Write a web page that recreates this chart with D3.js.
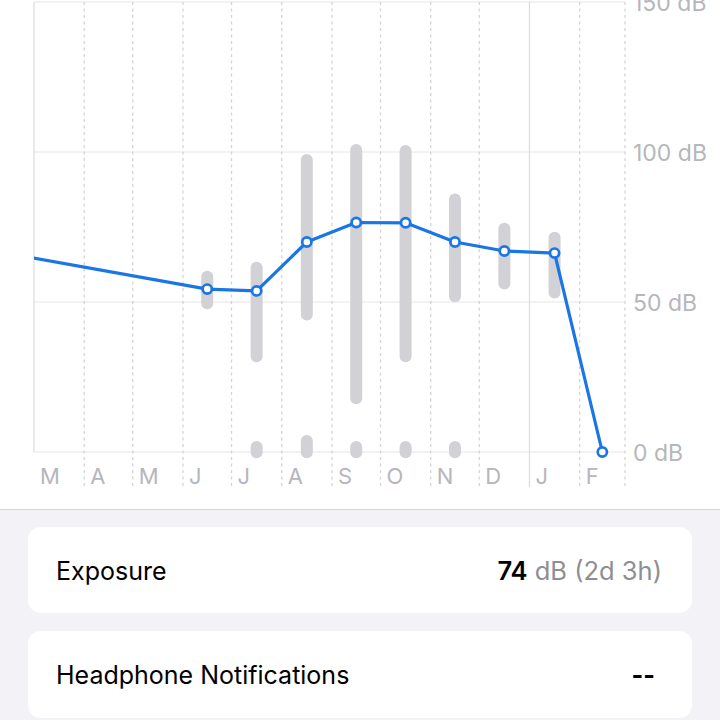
<!DOCTYPE html>
<html>
<head>
<meta charset="utf-8">
<script src="https://cdn.jsdelivr.net/npm/d3@7/dist/d3.min.js"></script>
<style>
  html, body { margin: 0; padding: 0; background: #f2f2f7; }
  svg { display: block; }
  text { font-family: Inter, Roboto, "Noto Sans", sans-serif; }
</style>
</head>
<body>
<svg id="chart" width="720" height="720"></svg>
<script>
// ---- Data ----
const monthLetters = ["M","A","M","J","J","A","S","O","N","D","J","F"];
const yTicks = [0, 50, 100, 150];

// monthly average exposure (line)
const avgMonths = ["2022-02","2022-06","2022-07","2022-08","2022-09","2022-10","2022-11","2022-12","2023-01","2023-02"];
const avgValues = [66, 54.3, 53.7, 70, 76.5, 76.4, 70, 67, 66.3, 0];

// monthly range (gray bars)
const rangeMonths = ["2022-06","2022-07","2022-08","2022-09","2022-10","2022-11","2022-12","2023-01"];
const rangeMax = [60.4, 63.4, 99.3, 102.7, 102.3, 86.2, 76.4, 73.4];
const rangeMin = [47.6, 29.9, 43.8, 15.9, 29.9, 49.9, 54.2, 51.2];

// low-level range near 0 dB (small pills)
const quietMonths = ["2022-07","2022-08","2022-09","2022-10","2022-11"];
const quietMax = [3.7, 5.7, 3.7, 3.7, 3.7];
const quietMin = [-2.1, -2.1, -2.1, -2.1, -2.1];

const summaryLabel = "Exposure";
const summaryValue = "74";
const summaryUnit = " dB (2d 3h)";
const notifLabel = "Headphone Notifications";
const notifValue = "--";

// ---- Layout ----
const svg = d3.select("#chart");
const W = 720;
const plot = { left: 34, right: 625, top: 2, bottom: 452 };
const start = new Date(2022, 2, 1), end = new Date(2023, 2, 1);

const x = d3.scaleTime().domain([start, end]).range([plot.left, plot.right]);
const y = d3.scaleLinear().domain([0, 150]).range([plot.bottom, plot.top]);

const parseMonth = d3.timeParse("%Y-%m");
const midMonth = s => {
  const a = parseMonth(s), b = d3.timeMonth.offset(a, 1);
  return new Date((a.getTime() + b.getTime()) / 2);
};

const monthStarts = d3.timeMonth.range(start, d3.timeDay.offset(end, 1));

// backgrounds
svg.append("rect").attr("x", 0).attr("y", 0).attr("width", W).attr("height", 509).attr("fill", "#ffffff");
svg.append("rect").attr("x", 0).attr("y", 509).attr("width", W).attr("height", 211).attr("fill", "#f2f2f7");
svg.append("line").attr("x1", 0).attr("x2", W).attr("y1", 509.5).attr("y2", 509.5)
  .attr("stroke", "#d6d6db").attr("stroke-width", 1.2);

// horizontal gridlines
svg.append("g").selectAll("line").data(yTicks).join("line")
  .attr("x1", plot.left).attr("x2", plot.right)
  .attr("y1", d => y(d)).attr("y2", d => y(d))
  .attr("stroke", "#e6e6ea").attr("stroke-width", 1.2);

// vertical month lines
const isSolid = d => d.getMonth() === 0 || +d === +start;
svg.append("g").selectAll("line").data(monthStarts).join("line")
  .attr("x1", d => x(d)).attr("x2", d => x(d))
  .attr("y1", plot.top)
  .attr("y2", (d, i) => i === 0 ? plot.bottom : 487)
  .attr("stroke", d => isSolid(d) ? "#dcdce0" : "#d4d4d8")
  .attr("stroke-width", d => isSolid(d) ? 1.2 : 1.3)
  .attr("stroke-dasharray", d => isSolid(d) ? null : "3,3.5");

// x axis labels
const xAxis = d3.axisBottom(x).tickValues(monthStarts.slice(0, 12))
  .tickFormat((d, i) => monthLetters[i]).tickSize(0).tickPadding(0);
const gx = svg.append("g").attr("transform", `translate(0,${plot.bottom})`).call(xAxis);
gx.select(".domain").remove();
gx.selectAll("text")
  .attr("text-anchor", "start").attr("dx", 5.5).attr("dy", null).attr("y", 32)
  .attr("fill", "#b6b6bb").attr("font-size", 22).attr("font-family", "Inter, Roboto, sans-serif");

// y axis labels
const yAxis = d3.axisRight(y).tickValues(yTicks).tickFormat(d => d + " dB").tickSize(0).tickPadding(0);
const gy = svg.append("g").attr("transform", `translate(${plot.right},0)`).call(yAxis);
gy.select(".domain").remove();
gy.selectAll("text")
  .attr("x", 8).attr("dy", "0.36em")
  .attr("fill", "#b6b6bb").attr("font-size", 23).attr("font-family", "Inter, Roboto, sans-serif");

// range bars
const barW = 12;
const bars = rangeMonths.map((m, i) => ({ m, hi: rangeMax[i], lo: rangeMin[i] }));
svg.append("g").selectAll("rect").data(bars).join("rect")
  .attr("x", d => x(midMonth(d.m)) - barW / 2)
  .attr("width", barW)
  .attr("y", d => y(d.hi))
  .attr("height", d => y(d.lo) - y(d.hi))
  .attr("rx", barW / 2)
  .attr("fill", "#d1d1d6");

const quiet = quietMonths.map((m, i) => ({ m, hi: quietMax[i], lo: quietMin[i] }));
svg.append("g").selectAll("rect").data(quiet).join("rect")
  .attr("x", d => x(midMonth(d.m)) - barW / 2)
  .attr("width", barW)
  .attr("y", d => y(d.hi))
  .attr("height", d => y(d.lo) - y(d.hi))
  .attr("rx", barW / 2)
  .attr("fill", "#d1d1d6");

// line
svg.append("clipPath").attr("id", "plotClip").append("rect")
  .attr("x", plot.left).attr("y", -10).attr("width", plot.right - plot.left + 10).attr("height", 480);

const pts = avgMonths.map((m, i) => ({ d: midMonth(m), v: avgValues[i] }));
const line = d3.line().x(p => x(p.d)).y(p => y(p.v));
svg.append("path").datum(pts)
  .attr("clip-path", "url(#plotClip)")
  .attr("d", line)
  .attr("fill", "none").attr("stroke", "#1a76e4").attr("stroke-width", 3.2)
  .attr("stroke-linejoin", "round");

svg.append("g").selectAll("circle").data(pts.filter(p => p.d >= start && p.d <= end)).join("circle")
  .attr("cx", p => x(p.d)).attr("cy", p => y(p.v)).attr("r", 4.6)
  .attr("fill", "#ffffff").attr("stroke", "#1a76e4").attr("stroke-width", 2.7);

// cards
const cards = [
  { y: 527, h: 86, label: summaryLabel },
  { y: 631, h: 87, label: notifLabel }
];
svg.append("g").selectAll("rect").data(cards).join("rect")
  .attr("x", 28).attr("y", d => d.y).attr("width", 664).attr("height", d => d.h)
  .attr("rx", 13).attr("fill", "#ffffff");

svg.append("g").selectAll("text").data(cards).join("text")
  .attr("x", 56).attr("y", d => d.y + 53)
  .attr("font-size", 25).attr("fill", "#000000")
  .text(d => d.label);

const val = svg.append("text").attr("x", 662).attr("y", 580).attr("text-anchor", "end").attr("font-size", 25.5);
val.append("tspan").attr("font-weight", 600).attr("fill", "#000000").text(summaryValue);
val.append("tspan").attr("fill", "#8e8e93").text(summaryUnit);

svg.append("text").attr("x", 655).attr("y", 684).attr("text-anchor", "end")
  .attr("font-size", 25).attr("font-weight", 700).attr("fill", "#000000").text(notifValue);
</script>
</body>
</html>
